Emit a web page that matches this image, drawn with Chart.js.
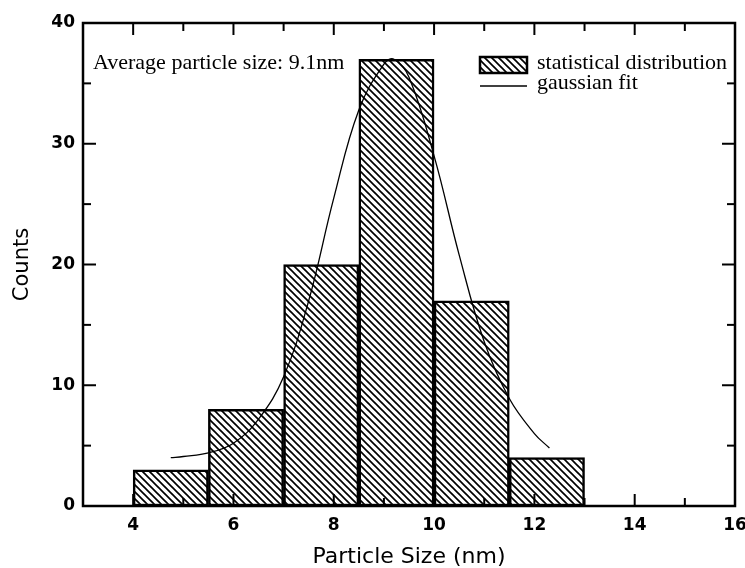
<!DOCTYPE html>
<html>
<head>
<meta charset="utf-8">
<script src="https://cdn.jsdelivr.net/npm/chart.js@4.4.1/dist/chart.umd.min.js"></script>
<style>
  html, body { margin: 0; padding: 0; background: #fff; }
  #wrap { width: 745px; height: 568px; }
</style>
</head>
<body>
<div id="wrap"><canvas id="sizeChart" width="745" height="568"></canvas></div>
<script>
// histogram bins (centre of each 1.5 nm bin) and counts
const binCenters = [4.75, 6.25, 7.75, 9.25, 10.75, 12.25];
const binCounts = [3, 8, 20, 37, 17, 4];

// gaussian fit curve
const fitX = [4.75, 5.0, 5.5, 6.0, 6.5, 7.0, 7.5, 8.0, 8.5, 9.0, 9.2, 9.5, 10.0, 10.5, 11.0, 11.5, 12.0, 12.3];
const fitY = [4.0, 4.1, 4.4, 5.2, 7.2, 10.7, 17.0, 25.5, 32.8, 36.6, 37.0, 35.5, 29.0, 20.8, 13.6, 8.9, 6.0, 4.8];

// axis ticks
const xTicks = [4, 6, 8, 10, 12, 14, 16];
const xMinorTicks = [5, 7, 9, 11, 13, 15];
const yTicks = [0, 10, 20, 30, 40];
const yMinorTicks = [5, 15, 25, 35];

const annotationText = "Average particle size: 9.1nm";
const legendLabels = ["statistical distribution", "gaussian fit"];

// diagonal hatch "\\\\" like the scanned figure
function makeHatch() {
    const s = 7;
    const c = document.createElement("canvas");
    c.width = s;
    c.height = s;
    const g = c.getContext("2d");
    g.fillStyle = "#fff";
    g.fillRect(0, 0, s, s);
    g.strokeStyle = "#000";
    g.lineWidth = 1.7;
    for (const k of [-s, 0, s]) {
        g.beginPath();
        g.moveTo(k - 1, -1);
        g.lineTo(k + s + 1, s + 1);
        g.stroke();
    }
    return g.createPattern(c, "repeat");
}

const ctx = document.getElementById("sizeChart").getContext("2d");
const hatch = makeHatch();
const sans = "'DejaVu Sans', Arial, sans-serif";
const serif = "'Liberation Serif', 'Times New Roman', serif";

// frame, inward ticks, annotation and legend
const framePlugin = {
    id: "frame",
    afterDatasetsDraw(chart) {
        const { ctx, chartArea: a, scales: { x, y } } = chart;
        ctx.save();
        ctx.strokeStyle = "#000";
        ctx.lineWidth = 2.5;
        ctx.strokeRect(a.left, a.top, a.right - a.left, a.bottom - a.top);

        ctx.lineWidth = 2;
        const tick = (x1, y1, x2, y2) => {
            ctx.beginPath();
            ctx.moveTo(x1, y1);
            ctx.lineTo(x2, y2);
            ctx.stroke();
        };
        xTicks.forEach(v => {
            const px = x.getPixelForValue(v);
            tick(px, a.bottom, px, a.bottom - 12);
            tick(px, a.top, px, a.top + 12);
        });
        xMinorTicks.forEach(v => {
            const px = x.getPixelForValue(v);
            tick(px, a.bottom, px, a.bottom - 8);
            tick(px, a.top, px, a.top + 8);
        });
        yTicks.forEach(v => {
            const py = y.getPixelForValue(v);
            tick(a.left, py, a.left + 13, py);
            tick(a.right, py, a.right - 13, py);
        });
        yMinorTicks.forEach(v => {
            const py = y.getPixelForValue(v);
            tick(a.left, py, a.left + 8, py);
            tick(a.right, py, a.right - 8, py);
        });

        ctx.fillStyle = "#000";
        ctx.font = "22px " + serif;
        ctx.textBaseline = "middle";
        ctx.textAlign = "left";
        ctx.fillText(annotationText, a.left + 10, a.top + 40);

        // legend
        const lx = a.right - 255;
        ctx.fillStyle = hatch;
        ctx.fillRect(lx, a.top + 34, 47, 16);
        ctx.lineWidth = 2.5;
        ctx.strokeRect(lx, a.top + 34, 47, 16);
        ctx.lineWidth = 1.5;
        tick(lx, a.top + 63, lx + 47, a.top + 63);
        ctx.fillStyle = "#000";
        ctx.fillText(legendLabels[0], lx + 57, a.top + 40);
        ctx.fillText(legendLabels[1], lx + 57, a.top + 60);
        ctx.restore();
    }
};

new Chart(ctx, {
    type: "bar",
    data: {
        datasets: [
            {
                type: "line",
                label: legendLabels[1],
                data: fitX.map((v, i) => ({ x: v, y: fitY[i] })),
                borderColor: "#000",
                borderWidth: 1.3,
                pointRadius: 0,
                tension: 0.4,
                fill: false,
                order: 0
            },
            {
                label: legendLabels[0],
                data: binCenters.map((v, i) => ({ x: v, y: binCounts[i] })),
                backgroundColor: hatch,
                borderColor: "#000",
                borderWidth: 2.5,
                borderSkipped: false,
                barPercentage: 1,
                categoryPercentage: 1,
                order: 1
            }
        ]
    },
    options: {
        responsive: false,
        animation: false,
        layout: { padding: { top: 23, right: 10, left: 0, bottom: 0 } },
        plugins: {
            legend: { display: false },
            tooltip: { enabled: false }
        },
        scales: {
            x: {
                type: "linear",
                min: 3,
                max: 16,
                offset: false,
                grid: { display: false, drawTicks: false },
                border: { display: false },
                afterBuildTicks: scale => { scale.ticks = xTicks.map(v => ({ value: v })); },
                afterFit: scale => {
                    scale.height = 62;
                    scale.paddingLeft = 0;
                    scale.paddingRight = 0;
                },
                ticks: {
                    color: "#000",
                    padding: 9,
                    font: { family: sans, size: 17, weight: "bold" }
                },
                title: {
                    display: true,
                    text: "Particle Size (nm)",
                    color: "#000",
                    padding: { top: 0, bottom: 0 },
                    font: { family: sans, size: 22, lineHeight: 1 }
                }
            },
            y: {
                min: 0,
                max: 40,
                grid: { display: false, drawTicks: false },
                border: { display: false },
                afterBuildTicks: scale => { scale.ticks = yTicks.map(v => ({ value: v })); },
                afterFit: scale => {
                    scale.width = 83;
                    scale.paddingTop = 0;
                    scale.paddingBottom = 0;
                },
                ticks: {
                    color: "#000",
                    padding: 8,
                    font: { family: sans, size: 17, weight: "bold" }
                },
                title: {
                    display: true,
                    text: "Counts",
                    color: "#000",
                    padding: { top: 10, bottom: 0 },
                    font: { family: sans, size: 21 }
                }
            }
        }
    },
    plugins: [framePlugin]
});
</script>
</body>
</html>
